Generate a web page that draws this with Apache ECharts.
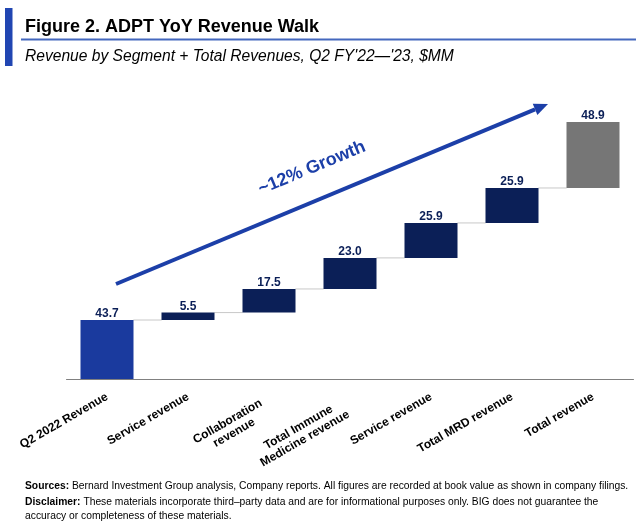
<!DOCTYPE html>
<html>
<head>
<meta charset="utf-8">
<script src="https://cdn.jsdelivr.net/npm/echarts@6/dist/echarts.min.js"></script>
<style>
  html, body { margin: 0; padding: 0; background: #ffffff; }
  #chart { width: 636px; height: 524px; }
</style>
</head>
<body>
<div id="chart"></div>
<script>
var categories = ['Q2 2022 Revenue', 'Service revenue', 'Collaboration\nrevenue', 'Total Immune\nMedicine revenue', 'Service revenue', 'Total MRD revenue', 'Total revenue'];
var values = [43.7, 5.5, 17.5, 23.0, 25.9, 25.9, 48.9];
var barColors = ['#1A3A9E', '#0B1F57', '#0B1F57', '#0B1F57', '#0B1F57', '#0B1F57', '#767676'];

var FONT = '"Liberation Sans", Arial, sans-serif';

// waterfall bases (each bar starts where the previous one ended)
var bases = [];
var running = 0;
for (var i = 0; i < values.length; i++) {
  bases.push(running);
  running += values[i];
}
var connectors = [];
for (var j = 0; j < values.length - 1; j++) {
  connectors.push([j, bases[j] + values[j]]);
}

var chart = echarts.init(document.getElementById('chart'), null, { renderer: 'canvas' });

// arrow geometry (annotation)
var ax1 = 116, ay1 = 284, ax2 = 548, ay2 = 104;
var dx = ax2 - ax1, dy = ay2 - ay1, len = Math.sqrt(dx * dx + dy * dy);
var ux = dx / len, uy = dy / len, nx = -uy, ny = ux;
var headL = 14, headW = 6;
var bx = ax2 - headL * ux, by = ay2 - headL * uy;
var ang = Math.atan2(-dy, dx);

var labelStyle = { align: 'center', fontFamily: FONT, fontWeight: 'bold', fontSize: 12, color: '#000000', lineHeight: 13 };

var option = {
  backgroundColor: '#ffffff',
  animation: false,
  grid: { left: 66.5, right: 2.5, top: 109, bottom: 145 },
  xAxis: {
    type: 'category',
    data: categories,
    axisLine: { show: true, lineStyle: { color: '#808080', width: 1 } },
    axisTick: { show: false },
    axisLabel: {
      interval: 0,
      rotate: 30,
      margin: 17,
      formatter: function (v) {
        var parts = v.split('\n');
        if (parts.length > 1) {
          return '{s| }\n' + parts.map(function (s) { return '{m|' + s + '}'; }).join('\n');
        }
        return '{c|' + v + '}';
      },
      rich: {
        c: labelStyle,
        m: Object.assign({}, labelStyle, { padding: [0, 10, 0, 0] }),
        s: { fontSize: 1, lineHeight: 16 }
      }
    }
  },
  yAxis: {
    type: 'value',
    min: 0,
    max: 200,
    show: false,
    splitLine: { show: false }
  },
  series: [
    {
      type: 'bar',
      stack: 'w',
      barWidth: 53,
      silent: true,
      itemStyle: { color: 'transparent' },
      data: bases
    },
    {
      type: 'bar',
      stack: 'w',
      barWidth: 53,
      data: values.map(function (v, k) {
        return { value: v, itemStyle: { color: barColors[k] } };
      }),
      label: {
        show: true,
        position: 'top',
        distance: 0,
        fontFamily: FONT,
        fontWeight: 'bold',
        fontSize: 12,
        color: '#0B1F57',
        formatter: function (p) { return p.value.toFixed(1); }
      }
    },
    {
      type: 'custom',
      silent: true,
      z: 1,
      data: connectors,
      renderItem: function (params, api) {
        var idx = api.value(0);
        var lvl = api.value(1);
        var p1 = api.coord([idx, lvl]);
        var p2 = api.coord([idx + 1, lvl]);
        var half = api.size([1, 0])[0] * 0.65 / 2;
        return {
          type: 'line',
          shape: { x1: p1[0] + half, y1: p1[1], x2: p2[0] - half, y2: p2[1] },
          style: { stroke: '#C8C8C8', lineWidth: 1 }
        };
      }
    }
  ],
  graphic: [
    { type: 'rect', shape: { x: 5, y: 8, width: 7.5, height: 58 }, style: { fill: '#2146B2' } },
    { type: 'text', x: 25, y: 27, style: { text: 'Figure 2. ADPT YoY Revenue Walk', font: 'bold 18px ' + FONT, fill: '#000000', verticalAlign: 'middle' } },
    { type: 'rect', shape: { x: 21, y: 38.5, width: 615, height: 2 }, style: { fill: '#4468BE' } },
    { type: 'text', x: 25, y: 56.5, style: { text: 'Revenue by Segment + Total Revenues, Q2 FY\'22\u2014\'23, $MM', font: 'italic 15.6px ' + FONT, fill: '#000000', verticalAlign: 'middle' } },
    { type: 'line', shape: { x1: ax1, y1: ay1, x2: bx, y2: by }, style: { stroke: '#1C3FA8', lineWidth: 4 } },
    { type: 'polygon', shape: { points: [[ax2, ay2], [bx + headW * nx, by + headW * ny], [bx - headW * nx, by - headW * ny]] }, style: { fill: '#1C3FA8' } },
    { type: 'text', x: 312, y: 168, rotation: ang, style: { text: '~12% Growth', font: 'bold 18px ' + FONT, fill: '#1C3FA8', align: 'center', verticalAlign: 'middle' } },
    { type: 'text', x: 25, y: 486, style: { text: '{b|Sources:} Bernard Investment Group analysis, Company reports. All figures are recorded at book value as shown in company filings.', font: '10.3px ' + FONT, fill: '#000000', verticalAlign: 'middle', rich: { b: { fontWeight: 'bold', fontSize: 10.3, fontFamily: FONT, fill: '#000000' } } } },
    { type: 'text', x: 25, y: 502, style: { text: '{b|Disclaimer:} These materials incorporate third\u2013party data and are for informational purposes only. BIG does not guarantee the', font: '10.3px ' + FONT, fill: '#000000', verticalAlign: 'middle', rich: { b: { fontWeight: 'bold', fontSize: 10.3, fontFamily: FONT, fill: '#000000' } } } },
    { type: 'text', x: 25, y: 516, style: { text: 'accuracy or completeness of these materials.', font: '10.3px ' + FONT, fill: '#000000', verticalAlign: 'middle' } }
  ]
};
chart.setOption(option);
</script>
</body>
</html>
